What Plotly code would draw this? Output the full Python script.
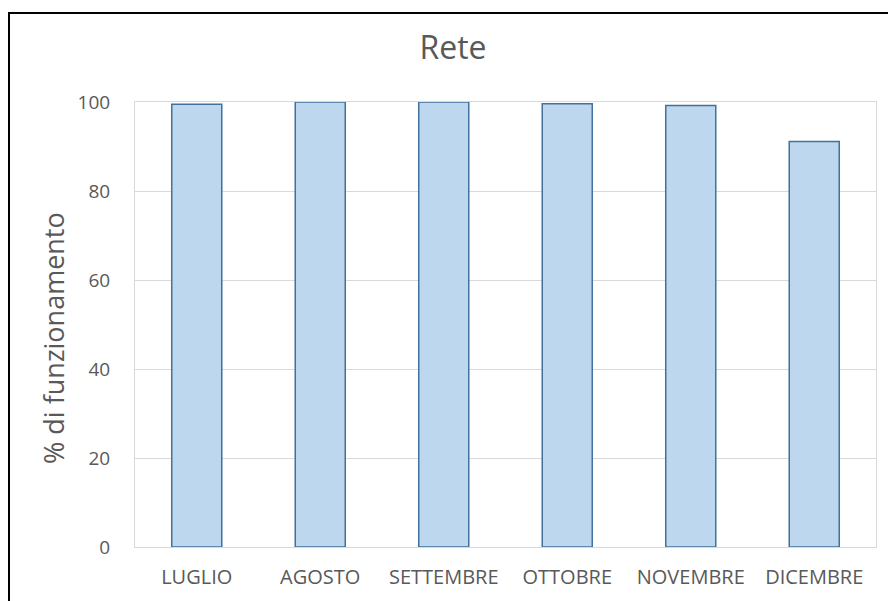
import plotly.graph_objects as go

months = ["LUGLIO", "AGOSTO", "SETTEMBRE", "OTTOBRE", "NOVEMBRE", "DICEMBRE"]
uptime = [99.5, 100.0, 100.0, 99.6, 99.2, 91.1]
y_ticks = [0, 20, 40, 60, 80, 100]

text_color = "#595959"
grid_color = "#d9d9d9"
font_family = "Open Sans"

# page body adds an 8px margin, so targets are shifted by -8
L, T, PW, PH = 127, 94, 741, 445

fig = go.Figure(go.Bar(
    x=months,
    y=uptime,
    marker=dict(color="#BDD7EE", line=dict(color="#41719C", width=1.5)),
))

fig.update_layout(
    width=896, height=601,
    margin=dict(l=L, r=896 - L - PW, t=T, b=601 - T - PH),
    paper_bgcolor="white", plot_bgcolor="white",
    bargap=0.595,
    showlegend=False,
    font=dict(family=font_family, color=text_color),
    title=dict(text="Rete", x=445 / 896, xref="container", xanchor="center",
               y=1 - 40 / 601, yref="container", yanchor="middle",
               font=dict(size=32, color=text_color, family=font_family)),
)

fig.update_yaxes(
    range=[0, 100], tickvals=y_ticks, showgrid=True, gridcolor=grid_color,
    gridwidth=1, showline=True, linecolor=grid_color, linewidth=1, mirror=True,
    zeroline=False, ticks="", tickfont=dict(size=19, color=text_color),
    ticklabelstandoff=20,
)
fig.update_xaxes(
    showgrid=False, showline=True, linecolor=grid_color, linewidth=1, mirror=True,
    ticks="", tickfont=dict(size=20, color=text_color), ticklabelstandoff=12,
)

# axis title placed by hand to sit where the original one is
fig.add_annotation(
    text="% di funzionamento", xref="paper", yref="paper",
    x=(45 - L) / PW, y=(T + PH - 330) / PH, textangle=-90,
    showarrow=False, xanchor="center", yanchor="middle",
    font=dict(size=27, color=text_color, family=font_family),
)

# outer chart frame (right and bottom edges run off the picture)
fig.add_shape(
    type="rect", xref="paper", yref="paper",
    x0=(1 - L) / PW, x1=(920 - L) / PW,
    y0=(T + PH - 620) / PH, y1=(T + PH - 5) / PH,
    line=dict(color="black", width=2), fillcolor="rgba(0,0,0,0)", layer="below",
)

fig.write_html("out.html")
